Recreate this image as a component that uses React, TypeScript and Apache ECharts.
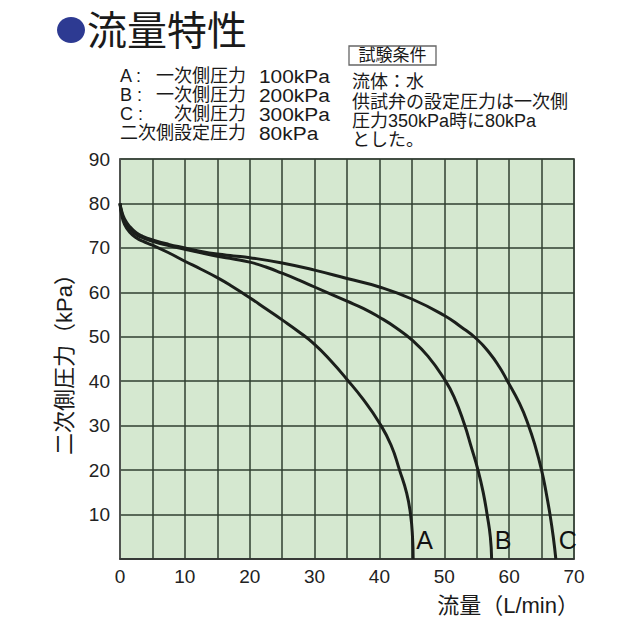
import React, { useEffect, useRef } from "react";
import * as echarts from "echarts";

const FONT = "'Liberation Sans', 'Noto Sans CJK JP', sans-serif";

// Curve A: primary pressure 100kPa
const flowA = [0, 0.25, 0.7, 1.5, 2.5, 3.5, 5, 7.5, 10, 12.5, 15, 17, 20, 22.5, 25, 27.5, 30, 32.5, 35, 37.5, 40, 41.8, 43.1, 44.2, 44.8, 45.1, 45.2];
const pressA = [80, 77.5, 75.3, 73.5, 72.3, 71.5, 70.6, 68.9, 67, 65.2, 63.3, 61.6, 58.8, 56.3, 53.8, 51.2, 48.3, 44.6, 40.4, 35.9, 30.6, 25.6, 20, 14.8, 10, 5, 0];

// Curve B: primary pressure 200kPa
const flowB = [0, 0.25, 0.7, 1.5, 2.5, 3.5, 5, 7.5, 10, 12.5, 15, 17.5, 20, 22.5, 25, 27.5, 30, 35, 37.5, 40, 42.5, 45, 47.5, 50, 51.5, 53.1, 54.2, 55.2, 56, 56.6, 57.1, 57.3];
const pressB = [80, 78, 76, 74.3, 73, 72.3, 71.5, 70.5, 69.7, 68.9, 68.1, 67.5, 66.8, 65.7, 64.3, 62.8, 61.2, 58, 56.4, 54.4, 52.1, 49.3, 45.6, 40.5, 36.5, 30.3, 25, 20, 15, 10, 5, 0];

// Curve C: primary pressure 300kPa
const flowC = [0, 0.25, 0.7, 1.5, 2.5, 3.5, 5, 7.5, 10, 12.5, 15, 17.5, 20, 25, 30, 35, 40, 45, 50, 52.5, 55, 57, 58.5, 59.6, 61.6, 63, 64.1, 65, 65.7, 66.3, 66.8, 67.2];
const pressC = [80, 78.3, 76.5, 74.8, 73.4, 72.6, 71.8, 70.8, 70, 69.2, 68.6, 68.2, 67.8, 66.6, 65, 63.1, 61.2, 58.5, 54.8, 52.3, 49.5, 46.3, 43.2, 40.4, 35, 30, 25, 20, 15, 10, 5, 0];

const curveNames = ["A", "B", "C"];

const legendPrefix = ["A :", "B :", "C :", ""];
const legendName = ["一次側圧力", "一次側圧力", "次側圧力", "二次側設定圧力"];
const legendValue = ["100kPa", "200kPa", "300kPa", "80kPa"];

const conditionTitle = "試験条件";
const conditionLines = ["流体：水", "供試弁の設定圧力は一次側", "圧力350kPa時に80kPa", "とした。"];

const title = "流量特性";
const xAxisName = "流量（L/min）";
const yAxisName = "二次側圧力（kPa）";

function buildSeries(name: string, xs: number[], ys: number[]) {
  const data: any[] = xs.map((x, i) => [x, ys[i]]);
  return {
    name,
    type: "line",
    data,
    smooth: 0.5,
    showSymbol: false,
    symbol: "none",
    lineStyle: { color: "#1b1f1b", width: 3 },
    endLabel: {
      show: true,
      formatter: name,
      distance: 3,
      offset: [0, -19],
      fontSize: 25,
      color: "#111",
      fontFamily: FONT,
    },
    z: 5,
  };
}

export default function App() {
  const ref = useRef<HTMLDivElement>(null);
  useEffect(() => {
    if (!ref.current) return;
    const chart = echarts.init(ref.current, undefined, { renderer: "svg" });
    const legendRowsY = [76, 95, 114, 133];
    const condY = [82, 102, 121, 140];
    const graphic: any[] = [
      { type: "ellipse", shape: { cx: 71, cy: 30, rx: 14, ry: 13 }, style: { fill: "#2d3a92" } },
      {
        type: "text", x: 87, y: 31,
        style: { text: title, fontSize: 40, fontFamily: FONT, fill: "#1a1a1a", verticalAlign: "middle", align: "left" },
      },
      { type: "rect", shape: { x: 349, y: 46, width: 87, height: 19 }, style: { fill: "none", stroke: "#666", lineWidth: 1.3 } },
      {
        type: "text", x: 392.5, y: 55.5,
        style: { text: conditionTitle, fontSize: 17, fontFamily: FONT, fill: "#1a1a1a", verticalAlign: "middle", align: "center" },
      },
    ];
    legendRowsY.forEach((y, i) => {
      if (legendPrefix[i]) {
        graphic.push({
          type: "text", x: 120, y,
          style: { text: legendPrefix[i], fontSize: 18, fontFamily: FONT, fill: "#1a1a1a", verticalAlign: "middle", align: "left" },
        });
      }
      graphic.push({
        type: "text", x: 246, y,
        style: { text: legendName[i], fontSize: 18, fontFamily: FONT, fill: "#1a1a1a", verticalAlign: "middle", align: "right" },
      });
      graphic.push({
        type: "text", x: 259, y, scaleX: 1.1,
        style: { text: legendValue[i], fontSize: 19, fontFamily: FONT, fill: "#1a1a1a", verticalAlign: "middle", align: "left" },
      });
    });
    condY.forEach((y, i) => {
      graphic.push({
        type: "text", x: 352, y,
        style: { text: conditionLines[i], fontSize: 18, fontFamily: FONT, fill: "#1a1a1a", verticalAlign: "middle", align: "left" },
      });
    });
    graphic.push({
      type: "text", x: 579, y: 605,
      style: { text: xAxisName, fontSize: 22, fontFamily: FONT, fill: "#1a1a1a", verticalAlign: "middle", align: "right" },
    });

    const option: any = {
      animation: false,
      backgroundColor: "#ffffff",
      grid: {
        left: 120, top: 159, width: 454, height: 400,
        show: true, backgroundColor: "#d5e8d0", borderColor: "#808080", borderWidth: 2,
      },
      xAxis: {
        type: "value", min: 0, max: 70, interval: 5,
        axisLine: { show: true, lineStyle: { color: "#333", width: 1.5 } },
        axisTick: { show: false },
        splitLine: { show: true, lineStyle: { color: "#2f3f30", width: 1.5 } },
        axisLabel: {
          formatter: (v: number) => (v % 10 === 0 ? String(v) : ""),
          fontSize: 19, color: "#222", margin: 8, fontFamily: FONT,
          showMinLabel: true, showMaxLabel: true,
        },
      },
      yAxis: {
        type: "value", min: 0, max: 90, interval: 10,
        name: yAxisName, nameLocation: "middle", nameGap: 45, nameRotate: 90,
        nameTextStyle: { fontSize: 22, color: "#1a1a1a", fontFamily: FONT },
        axisLine: { show: true, lineStyle: { color: "#555", width: 1.5 } },
        axisTick: { show: false },
        splitLine: { show: true, lineStyle: { color: "#2f3f30", width: 1.5 } },
        axisLabel: {
          formatter: (v: number) => (v === 0 ? "" : String(v)),
          fontSize: 19, color: "#222", margin: 10, fontFamily: FONT,
          showMinLabel: true, showMaxLabel: true,
        },
      },
      series: [
        buildSeries(curveNames[0], flowA, pressA),
        buildSeries(curveNames[1], flowB, pressB),
        buildSeries(curveNames[2], flowC, pressC),
      ],
      graphic,
    };
    chart.setOption(option);
    return () => chart.dispose();
  }, []);
  return <div ref={ref} style={{ position: "fixed", left: 0, top: 0, width: 628, height: 628 }} />;
}
